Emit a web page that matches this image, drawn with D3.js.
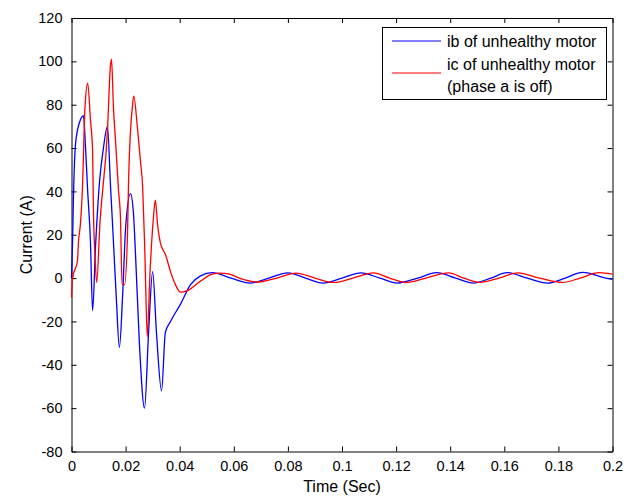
<!DOCTYPE html>
<html>
<head>
<meta charset="utf-8">
<script src="https://cdn.jsdelivr.net/npm/d3@7"></script>
<style>
  body { margin: 0; background: #fff; }
  text { font-family: "Liberation Sans", Arial, sans-serif; }
</style>
</head>
<body>
<div id="chart"></div>
<script>
// ib of unhealthy motor
const timeB = [0, 0.0004, 0.0007, 0.0015, 0.003, 0.0044, 0.0052, 0.0059, 0.007, 0.0078,
  0.0089, 0.0104, 0.0118, 0.0133, 0.0144, 0.0155, 0.0166, 0.0177, 0.0189, 0.02,
  0.0218, 0.0229, 0.0237, 0.0251, 0.027, 0.0285, 0.03, 0.0314, 0.0333, 0.0347,
  0.0366, 0.0403, 0.044, 0.0477, 0.052, 0.059, 0.066, 0.073, 0.08, 0.0865,
  0.093, 0.1, 0.107, 0.114, 0.1205, 0.128, 0.135, 0.142, 0.1486, 0.155,
  0.161, 0.1685, 0.176, 0.1825, 0.189, 0.1975, 0.2];
const ib = [0, 17, 36, 62, 72, 75, 60, 42, 17, -15,
  15, 45, 60, 70, 43, 17, -10, -32, -8, 23,
  39, 30, 10, -30, -60, -25, 3, -25, -52, -25,
  -20, -12, -3, 1, 2.5, 0, -2.3, 0, 2.4, 0,
  -2.3, 0, 2.4, 0, -2.3, 0, 2.5, 0, -2.3, 0,
  2.5, 0, -2.3, 0, 2.6, 0, -0.6];

// ic of unhealthy motor (phase a is off)
const timeC = [0, 0.0004, 0.0022, 0.0026, 0.0033, 0.004, 0.005, 0.006, 0.007, 0.0078,
  0.0081, 0.0087, 0.0093, 0.0105, 0.0133, 0.0144, 0.0148, 0.0155, 0.0163, 0.0174,
  0.0181, 0.0187, 0.0196, 0.0207, 0.0211, 0.0225, 0.023, 0.0244, 0.0255, 0.0263,
  0.027, 0.0273, 0.028, 0.029, 0.0303, 0.031, 0.0318, 0.0329, 0.0347, 0.0366,
  0.0384, 0.0403, 0.0425, 0.0477, 0.052, 0.055, 0.0585, 0.062, 0.069, 0.076,
  0.083, 0.09, 0.097, 0.104, 0.1117, 0.1176, 0.1235, 0.131, 0.1394, 0.145,
  0.151, 0.158, 0.165, 0.173, 0.1815, 0.188, 0.195, 0.2];
const ic = [-9, 0, 8, 17, 25, 40, 79, 90, 73, 59,
  32, 10, -2, 25, 68, 98, 101, 79, 63, 40,
  28, -3, -3, 20, 45, 79, 84, 69, 54, 42,
  17, 3, -27, 2, 28, 36, 25, 16, 11, 3,
  -3, -6.5, -6, -1.4, 1.8, 2.3, 1.8, 0, -1.8, 0,
  2.3, 0, -2, 0, 2.4, 0, -2, 0, 2.4, 0,
  -2, 0, 2.4, 0, -2, 0, 2.5, 1.8];

const xTicks = [0, 0.02, 0.04, 0.06, 0.08, 0.1, 0.12, 0.14, 0.16, 0.18, 0.2];
const yTicks = [-80, -60, -40, -20, 0, 20, 40, 60, 80, 100, 120];

const width = 639, height = 497;
const margin = { left: 71.5, right: 26.5, top: 18, bottom: 45.5 };
const innerW = width - margin.left - margin.right;
const innerH = height - margin.top - margin.bottom;

const svg = d3.select("#chart").append("svg")
  .attr("width", width)
  .attr("height", height);

const g = svg.append("g")
  .attr("transform", "translate(" + margin.left + "," + margin.top + ")");

const x = d3.scaleLinear().domain([0, 0.2]).range([0, innerW]);
const y = d3.scaleLinear().domain([-80, 120]).range([innerH, 0]);

// matlab style box with inward ticks, plain hyphen for minus
const fmt = (d) => (d === 0 ? "0" : String(+d.toFixed(2)));

const xAxis = g.append("g")
  .attr("transform", "translate(0," + innerH + ")")
  .call(d3.axisBottom(x).tickValues(xTicks).tickSizeInner(-5).tickSizeOuter(0).tickPadding(9).tickFormat(fmt));
const xAxisTop = g.append("g")
  .call(d3.axisTop(x).tickValues(xTicks).tickSizeInner(-5).tickSizeOuter(0).tickFormat(""));
const yAxis = g.append("g")
  .call(d3.axisLeft(y).tickValues(yTicks).tickSizeInner(-5).tickSizeOuter(0).tickPadding(9).tickFormat(fmt));
const yAxisRight = g.append("g")
  .attr("transform", "translate(" + innerW + ",0)")
  .call(d3.axisRight(y).tickValues(yTicks).tickSizeInner(-5).tickSizeOuter(0).tickFormat(""));

[xAxis, xAxisTop, yAxis, yAxisRight].forEach((a) => {
  a.select(".domain").attr("stroke", "#000");
  a.selectAll(".tick line").attr("stroke", "#000");
  a.selectAll(".tick text").attr("fill", "#000").style("font-size", "14.5px");
});

const line = (xs, ys) => d3.line()
  .x((d, i) => x(xs[i]))
  .y((d) => y(d))
  .curve(d3.curveMonotoneX)(ys);

g.append("path")
  .attr("d", line(timeB, ib))
  .attr("fill", "none")
  .attr("stroke", "#0000ff")
  .attr("stroke-width", 1.3);

g.append("path")
  .attr("d", line(timeC, ic))
  .attr("fill", "none")
  .attr("stroke", "#ff0000")
  .attr("stroke-width", 1.3);

// axis labels
svg.append("text")
  .attr("x", margin.left + innerW / 2)
  .attr("y", 492)
  .attr("text-anchor", "middle")
  .style("font-size", "16px")
  .text("Time (Sec)");

svg.append("text")
  .attr("transform", "translate(32," + (margin.top + innerH / 2) + ") rotate(-90)")
  .attr("text-anchor", "middle")
  .style("font-size", "16px")
  .text("Current (A)");

// legend
const legend = svg.append("g");
legend.append("rect")
  .attr("x", 382.5).attr("y", 27.5)
  .attr("width", 224).attr("height", 72)
  .attr("fill", "#fff").attr("stroke", "#000");

legend.append("line")
  .attr("x1", 392).attr("x2", 441).attr("y1", 41).attr("y2", 41)
  .attr("stroke", "#0000ff").attr("stroke-width", 1.2);
legend.append("line")
  .attr("x1", 392).attr("x2", 441).attr("y1", 73).attr("y2", 73)
  .attr("stroke", "#ff0000").attr("stroke-width", 1.2);

const legendText = [["ib of unhealthy motor", 47], ["ic of unhealthy motor", 70], ["(phase a is off)", 92]];
legend.selectAll("text.leg")
  .data(legendText)
  .enter()
  .append("text")
  .attr("class", "leg")
  .attr("x", 447)
  .attr("y", (d) => d[1])
  .style("font-size", "16px")
  .text((d) => d[0]);
</script>
</body>
</html>
